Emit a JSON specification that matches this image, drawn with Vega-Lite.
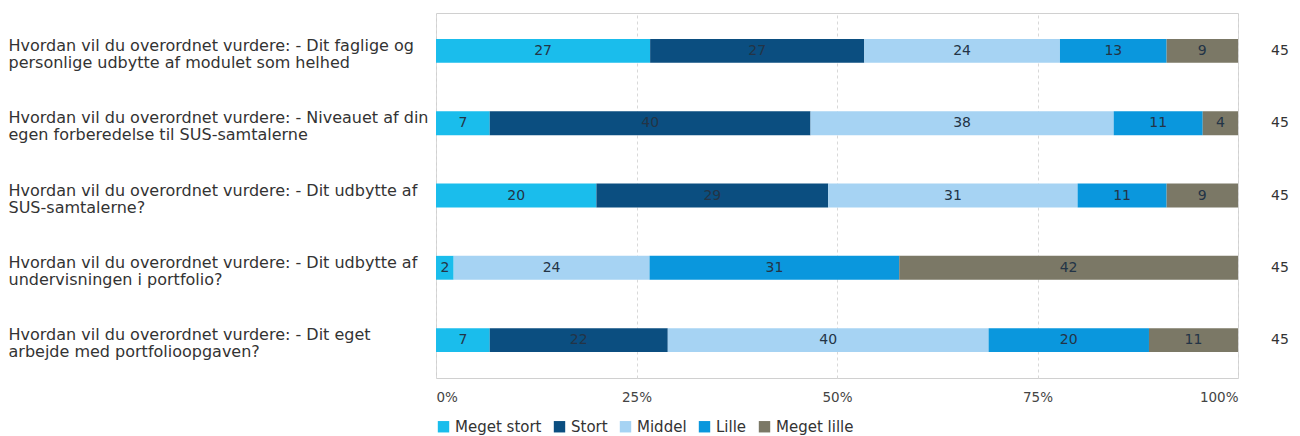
{
  "$schema": "https://vega.github.io/schema/vega-lite/v6.json",
  "autosize": {"type": "none"},
  "padding": {"left": 436, "top": 13, "right": 62, "bottom": 58},
  "width": 802,
  "height": 365,
  "background": "white",
  "config": {
    "font": "DejaVu Sans",
    "view": {"stroke": "#d0d0d0", "strokeWidth": 1}
  },
  "datasets": {
    "answers": [
      {"q": "Hvordan vil du overordnet vurdere: - Dit faglige  og\npersonlige udbytte af modulet som helhed", "svar": "Meget stort", "rank": 1, "pct": 26.7},
      {"q": "Hvordan vil du overordnet vurdere: - Dit faglige  og\npersonlige udbytte af modulet som helhed", "svar": "Stort", "rank": 2, "pct": 26.7},
      {"q": "Hvordan vil du overordnet vurdere: - Dit faglige  og\npersonlige udbytte af modulet som helhed", "svar": "Middel", "rank": 3, "pct": 24.4},
      {"q": "Hvordan vil du overordnet vurdere: - Dit faglige  og\npersonlige udbytte af modulet som helhed", "svar": "Lille", "rank": 4, "pct": 13.3},
      {"q": "Hvordan vil du overordnet vurdere: - Dit faglige  og\npersonlige udbytte af modulet som helhed", "svar": "Meget lille", "rank": 5, "pct": 8.9},
      {"q": "Hvordan vil du overordnet vurdere: - Niveauet af din\negen forberedelse til SUS-samtalerne", "svar": "Meget stort", "rank": 1, "pct": 6.7},
      {"q": "Hvordan vil du overordnet vurdere: - Niveauet af din\negen forberedelse til SUS-samtalerne", "svar": "Stort", "rank": 2, "pct": 40.0},
      {"q": "Hvordan vil du overordnet vurdere: - Niveauet af din\negen forberedelse til SUS-samtalerne", "svar": "Middel", "rank": 3, "pct": 37.8},
      {"q": "Hvordan vil du overordnet vurdere: - Niveauet af din\negen forberedelse til SUS-samtalerne", "svar": "Lille", "rank": 4, "pct": 11.1},
      {"q": "Hvordan vil du overordnet vurdere: - Niveauet af din\negen forberedelse til SUS-samtalerne", "svar": "Meget lille", "rank": 5, "pct": 4.4},
      {"q": "Hvordan vil du overordnet vurdere: - Dit udbytte af\nSUS-samtalerne?", "svar": "Meget stort", "rank": 1, "pct": 20.0},
      {"q": "Hvordan vil du overordnet vurdere: - Dit udbytte af\nSUS-samtalerne?", "svar": "Stort", "rank": 2, "pct": 28.9},
      {"q": "Hvordan vil du overordnet vurdere: - Dit udbytte af\nSUS-samtalerne?", "svar": "Middel", "rank": 3, "pct": 31.1},
      {"q": "Hvordan vil du overordnet vurdere: - Dit udbytte af\nSUS-samtalerne?", "svar": "Lille", "rank": 4, "pct": 11.1},
      {"q": "Hvordan vil du overordnet vurdere: - Dit udbytte af\nSUS-samtalerne?", "svar": "Meget lille", "rank": 5, "pct": 8.9},
      {"q": "Hvordan vil du overordnet vurdere: - Dit udbytte af\nundervisningen i portfolio?", "svar": "Meget stort", "rank": 1, "pct": 2.2},
      {"q": "Hvordan vil du overordnet vurdere: - Dit udbytte af\nundervisningen i portfolio?", "svar": "Middel", "rank": 3, "pct": 24.4},
      {"q": "Hvordan vil du overordnet vurdere: - Dit udbytte af\nundervisningen i portfolio?", "svar": "Lille", "rank": 4, "pct": 31.1},
      {"q": "Hvordan vil du overordnet vurdere: - Dit udbytte af\nundervisningen i portfolio?", "svar": "Meget lille", "rank": 5, "pct": 42.2},
      {"q": "Hvordan vil du overordnet vurdere: - Dit eget\narbejde med portfolioopgaven?", "svar": "Meget stort", "rank": 1, "pct": 6.7},
      {"q": "Hvordan vil du overordnet vurdere: - Dit eget\narbejde med portfolioopgaven?", "svar": "Stort", "rank": 2, "pct": 22.2},
      {"q": "Hvordan vil du overordnet vurdere: - Dit eget\narbejde med portfolioopgaven?", "svar": "Middel", "rank": 3, "pct": 40.0},
      {"q": "Hvordan vil du overordnet vurdere: - Dit eget\narbejde med portfolioopgaven?", "svar": "Lille", "rank": 4, "pct": 20.0},
      {"q": "Hvordan vil du overordnet vurdere: - Dit eget\narbejde med portfolioopgaven?", "svar": "Meget lille", "rank": 5, "pct": 11.1}
    ],
    "totals": [
      {"q": "Hvordan vil du overordnet vurdere: - Dit faglige  og\npersonlige udbytte af modulet som helhed", "n": 45},
      {"q": "Hvordan vil du overordnet vurdere: - Niveauet af din\negen forberedelse til SUS-samtalerne", "n": 45},
      {"q": "Hvordan vil du overordnet vurdere: - Dit udbytte af\nSUS-samtalerne?", "n": 45},
      {"q": "Hvordan vil du overordnet vurdere: - Dit udbytte af\nundervisningen i portfolio?", "n": 45},
      {"q": "Hvordan vil du overordnet vurdere: - Dit eget\narbejde med portfolioopgaven?", "n": 45}
    ]
  },
  "encoding": {
    "y": {
      "field": "q",
      "type": "nominal",
      "sort": null,
      "scale": {"paddingInner": 0.67, "paddingOuter": 0.36},
      "axis": {
        "title": null,
        "labelExpr": "split(datum.value, '\\n')",
        "labelAlign": "left",
        "labelBaseline": "middle",
        "labelOffset": -5,
        "labelPadding": 428,
        "labelLimit": 440,
        "labelFontSize": 16,
        "labelColor": "#333333",
        "labelLineHeight": 17,
        "ticks": false,
        "domain": false,
        "grid": false
      }
    }
  },
  "layer": [
    {
      "data": {"name": "answers"},
      "mark": {"type": "bar"},
      "encoding": {
        "x": {
          "field": "pct",
          "type": "quantitative",
          "stack": "normalize",
          "scale": {"domain": [0, 1]},
          "axis": {
            "title": null,
            "format": "%",
            "values": [0, 0.25, 0.5, 0.75, 1],
            "labelFlush": true,
            "labelFontSize": 13.5,
            "labelColor": "#444444",
            "labelPadding": 12,
            "ticks": false,
            "domain": false,
            "grid": true,
            "gridColor": "#d8d8d8",
            "gridDash": [3, 3]
          }
        },
        "color": {
          "field": "svar",
          "type": "nominal",
          "sort": ["Meget stort", "Stort", "Middel", "Lille", "Meget lille"],
          "scale": {
            "domain": ["Meget stort", "Stort", "Middel", "Lille", "Meget lille"],
            "range": ["#1ABDEC", "#0B4E80", "#A6D3F3", "#0A97DD", "#7B7866"]
          },
          "legend": {
            "title": null,
            "orient": "bottom",
            "direction": "horizontal",
            "symbolType": "square",
            "symbolSize": 130,
            "symbolStrokeWidth": 0,
            "labelFontSize": 15,
            "labelColor": "#333333",
            "columnPadding": 10,
            "offset": 15,
            "padding": 0
          }
        },
        "order": {"field": "rank", "type": "quantitative"}
      }
    },
    {
      "data": {"name": "answers"},
      "mark": {"type": "text", "fontSize": 14, "color": "#233446"},
      "encoding": {
        "x": {"field": "pct", "type": "quantitative", "stack": "normalize", "bandPosition": 0.5},
        "text": {"field": "pct", "type": "quantitative", "format": ".0f"},
        "detail": {"field": "svar", "type": "nominal"},
        "order": {"field": "rank", "type": "quantitative"}
      }
    },
    {
      "data": {"name": "totals"},
      "mark": {"type": "text", "fontSize": 14, "color": "#333333", "dx": 42},
      "encoding": {
        "x": {"datum": 1, "type": "quantitative"},
        "text": {"field": "n", "type": "quantitative"}
      }
    }
  ]
}
